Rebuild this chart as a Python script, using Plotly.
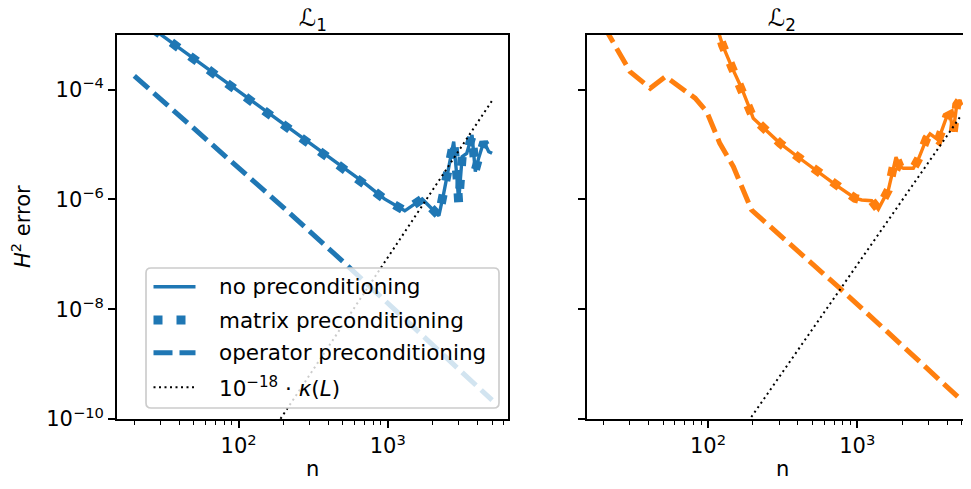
import plotly.graph_objects as go

# ---------------- data ----------------
# Left panel  (L1)
n1 = [20, 30, 50, 100, 200, 400, 700, 950, 1300, 1700, 2200, 2370, 2620, 2765,
      2910, 2985, 3150, 3380, 3670, 3860, 4060, 4400, 4750, 5000]
none1 = [2.26e-3, 1.01e-3, 3.68e-4, 9.33e-5, 2.37e-5, 6.0e-6, 1.98e-6, 1.02e-6,
         6.2e-7, 1.02e-6, 5.05e-7, 1.29e-6, 4.86e-6, 1.13e-5, 2.45e-6, 9.1e-7,
         6.0e-6, 6.9e-6, 1.49e-5, 3.2e-6, 5.6e-6, 1.13e-5, 7.4e-6, 6.9e-6]
matrix1 = [2.26e-3, 1.01e-3, 3.68e-4, 9.33e-5, 2.37e-5, 6.0e-6, 1.98e-6, 1.02e-6,
           6.2e-7, 1.02e-6, 5.05e-7, 1.29e-6, 4.86e-6, 1.13e-5, 2.6e-6, 8.8e-7,
           6.0e-6, 6.7e-6, 1.45e-5, 3.4e-6, 5.6e-6, 1.1e-5, 7.4e-6, 6.9e-6]
n1_op = [20, 50, 100, 200, 500, 1000, 2000, 5000]
op1 = [1.78e-4, 2.0e-5, 3.8e-6, 7.1e-7, 7.4e-8, 1.29e-8, 2.24e-9, 2.2e-10]

# Right panel (L2)
n2 = [100, 125, 144, 168, 191, 201, 237, 304, 403, 544, 729, 967, 1072, 1251,
      1385, 1616, 1746, 1820, 1936, 2038, 2378, 2568, 2924, 3076, 3496, 3980,
      4188, 4407, 4645, 4887, 5000]
none2 = [4.7e-3, 6.53e-4, 2.62e-4, 1.06e-4, 4.40e-5, 3.01e-5, 1.98e-5, 1.05e-5,
         5.86e-6, 3.20e-6, 1.78e-6, 1.05e-6, 9.75e-7, 9.46e-7, 6.59e-7, 1.48e-6,
         3.94e-6, 5.86e-6, 3.94e-6, 3.69e-6, 3.69e-6, 5.38e-6, 1.30e-5, 1.56e-5,
         1.21e-5, 3.22e-5, 3.46e-5, 1.71e-5, 5.26e-5, 6.49e-5, 5.26e-5]
matrix2 = list(none2)
n2_op = [20, 30, 41, 45, 52, 82, 98, 120, 148, 196, 767, 2000, 5000]
op2 = [1.45e-3, 2.13e-4, 1.06e-4, 1.31e-4, 1.73e-4, 6.97e-5, 3.97e-5, 1.05e-5,
       3.94e-6, 6.41e-7, 2.39e-8, 2.19e-9, 2.2e-10]

# 1e-18 * kappa(L)
n_kappa = [20, 100, 200, 500, 1000, 2000, 5000]
kappa1 = [1.0e-14, 7.3e-12, 1.25e-10, 5.3e-9, 9.0e-8, 1.52e-6, 6.3e-5]
kappa2 = [1.48e-14, 7.96e-12, 1.19e-10, 4.27e-9, 6.4e-8, 9.6e-7, 3.46e-5]

y_tickvals = [1e-10, 1e-8, 1e-6, 1e-4]
y_ticktext = ["10<sup>−10</sup>", "10<sup>−8</sup>", "10<sup>−6</sup>", "10<sup>−4</sup>"]
x_tickvals = [100, 1000]
x_ticktext = ["10<sup>2</sup>", "10<sup>3</sup>"]
x_minor = [20, 30, 40, 50, 60, 70, 80, 90, 200, 300, 400, 500, 600, 700, 800, 900,
           2000, 3000, 4000, 5000, 6000]

legend_labels = ["no preconditioning", "matrix preconditioning",
                 "operator preconditioning", "10<sup>−18</sup> · <i>κ</i>(<i>L</i>)"]

BLUE = "#1f77b4"
ORANGE = "#ff7f0e"
FONT = "DejaVu Sans"
W, H = 971, 489
OFF = 8  # page body margin of the html page

SOLID_W = 3.4
DOT_W, DOT_DASH = 9, "9px,14px"
DASH_W, DASH_DASH = 5, "19px,7px"
K_W, K_DASH = 2, "2px,3.5px"

fig = go.Figure()

def add_panel(xa, ya, n, none, matrix, nop, op, kap, color):
    fig.add_trace(go.Scatter(x=n, y=none, mode="lines", xaxis=xa, yaxis=ya,
                             line=dict(color=color, width=SOLID_W), showlegend=False))
    fig.add_trace(go.Scatter(x=n, y=matrix, mode="lines", xaxis=xa, yaxis=ya,
                             line=dict(color=color, width=DOT_W, dash=DOT_DASH), showlegend=False))
    fig.add_trace(go.Scatter(x=nop, y=op, mode="lines", xaxis=xa, yaxis=ya,
                             line=dict(color=color, width=DASH_W, dash=DASH_DASH), showlegend=False))
    fig.add_trace(go.Scatter(x=n_kappa, y=kap, mode="lines", xaxis=xa, yaxis=ya,
                             line=dict(color="black", width=K_W, dash=K_DASH), showlegend=False))

add_panel("x", "y", n1, none1, matrix1, n1_op, op1, kappa1, BLUE)
add_panel("x2", "y2", n2, none2, matrix2, n2_op, op2, kappa2, ORANGE)

# pixel helpers (reference pixel -> paper)
def px(x):
    return (x - OFF) / W

def py(y):
    return 1 - (y - OFF) / H

L_LEFT, L_RIGHT = 117.3, 508.3
R_LEFT = 586.7
R_RIGHT = W + OFF
TOP, BOT = 34.7, 419.0
DEC = 149.2
XMIN = 1.187

axis_common = dict(type="log", showgrid=False, zeroline=False, showline=True,
                   linecolor="black", linewidth=1.67, ticks="outside", ticklen=7.3,
                   tickwidth=1.67, tickcolor="black",
                   tickfont=dict(family=FONT, size=21, color="black"))

fig.update_layout(
    width=W, height=H,
    margin=dict(l=0, r=0, t=0, b=0, autoexpand=False),
    paper_bgcolor="white", plot_bgcolor="white",
    font=dict(family=FONT, size=21, color="black"),
    showlegend=False,
    xaxis=dict(axis_common, domain=[px(L_LEFT), px(L_RIGHT)], anchor="y", mirror=True,
               range=[XMIN, XMIN + (L_RIGHT - L_LEFT) / DEC],
               tickvals=x_tickvals, ticktext=x_ticktext,
               minor=dict(tickvals=x_minor, ticks="outside", ticklen=4.2,
                          tickwidth=1.25, tickcolor="black")),
    yaxis=dict(axis_common, domain=[py(BOT), py(TOP)], anchor="x", mirror=True,
               range=[-10, -3], tickvals=y_tickvals, ticktext=y_ticktext),
    xaxis2=dict(axis_common, domain=[px(R_LEFT), 1.0], anchor="y2", mirror=True,
                range=[XMIN, XMIN + (R_RIGHT - R_LEFT) / DEC],
                tickvals=x_tickvals, ticktext=x_ticktext,
                minor=dict(tickvals=x_minor, ticks="outside", ticklen=4.2,
                           tickwidth=1.25, tickcolor="black")),
    yaxis2=dict(axis_common, domain=[py(BOT), py(TOP)], anchor="x2", mirror=False,
                range=[-10, -3], tickvals=y_tickvals, ticktext=y_ticktext,
                showticklabels=False),
)

ann = []
L_CX = (L_LEFT + L_RIGHT) / 2
R_CX = (R_LEFT + R_LEFT + (L_RIGHT - L_LEFT)) / 2
# panel titles
for cx, t in [(L_CX, "ℒ<sub>1</sub>"), (R_CX, "ℒ<sub>2</sub>")]:
    ann.append(dict(text=t, x=px(cx), y=py(20), xref="paper", yref="paper",
                    showarrow=False, xanchor="center", yanchor="middle",
                    font=dict(family=FONT, size=24, color="black")))
# axis titles
for cx in [L_CX, R_CX]:
    ann.append(dict(text="n", x=px(cx), y=py(469), xref="paper", yref="paper",
                    showarrow=False, xanchor="center", yanchor="middle",
                    font=dict(family=FONT, size=21, color="black")))
ann.append(dict(text="<i>H</i><sup>2</sup> error", x=px(21), y=py(227), xref="paper",
                yref="paper", showarrow=False, textangle=-90, xanchor="center",
                yanchor="middle", font=dict(family=FONT, size=21, color="black")))

# legend (manual, inside left panel)
bx0, bx1, by0, by1, r = 146, 499, 268, 408, 5
rx, ry = r / W, r / H
X0, X1, Y0, Y1 = px(bx0), px(bx1), py(by0), py(by1)
path = (f"M {X0+rx},{Y0} L {X1-rx},{Y0} Q {X1},{Y0} {X1},{Y0-ry} "
        f"L {X1},{Y1+ry} Q {X1},{Y1} {X1-rx},{Y1} L {X0+rx},{Y1} "
        f"Q {X0},{Y1} {X0},{Y1+ry} L {X0},{Y0-ry} Q {X0},{Y0} {X0+rx},{Y0} Z")
shapes = [dict(type="path", path=path, xref="paper", yref="paper", layer="above",
               fillcolor="rgba(255,255,255,0.8)", line=dict(color="#cccccc", width=1.67))]
rows = [286.7, 320.0, 352.7, 387.3]
styles = [dict(color=BLUE, width=SOLID_W),
          dict(color=BLUE, width=DOT_W, dash=DOT_DASH),
          dict(color=BLUE, width=DASH_W, dash=DASH_DASH),
          dict(color="black", width=K_W, dash=K_DASH)]
for yy, st, lab in zip(rows, styles, legend_labels):
    shapes.append(dict(type="line", xref="paper", yref="paper", layer="above",
                       x0=px(153.5), x1=px(195.5), y0=py(yy), y1=py(yy), line=st))
    ann.append(dict(text=lab, x=px(216.7), y=py(yy), xref="paper", yref="paper",
                    showarrow=False, xanchor="left", yanchor="middle",
                    font=dict(family=FONT, size=21.5, color="black")))

fig.update_layout(annotations=ann, shapes=shapes)
fig.write_html("out.html")
